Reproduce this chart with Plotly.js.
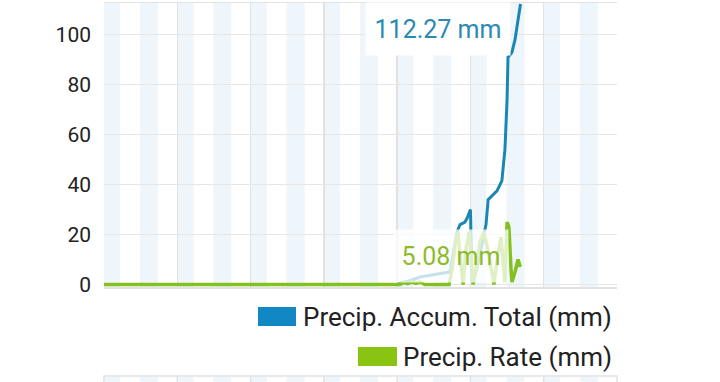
<!DOCTYPE html>
<html>
<head>
<meta charset="utf-8">
<script src="https://cdn.plot.ly/plotly-3.0.1.min.js"></script>
<style>
  html, body { margin: 0; padding: 0; background: #ffffff; }
  #chart { width: 720px; height: 382px; }
</style>
</head>
<body>
<div id="chart"></div>
<script>
// ---- data (hours since start of the 7-day window) ----
const seriesNames = ["Precip. Accum. Total (mm)", "Precip. Rate (mm)"];

const accumHours = [0, 96, 96.9, 100.2, 103.5, 108.4, 113.3, 114.3, 115.6, 116.6, 118.2, 118.9, 120.0,
                    120.5, 121.8, 123.1, 124.4, 125.1, 125.8, 127.1, 128.7, 130.3, 131.3, 132.0, 132.3,
                    133.6, 134.6, 135.6, 136.4];
const accumValues = [0, 0, 0.5, 1.5, 3, 4, 5, 12, 21, 24, 25, 26.5, 30,
                     1, 5, 12, 20, 24, 34, 35.5, 37.5, 41.5, 54, 74, 91,
                     93, 98, 106, 112.27];

const rateHours = [0, 96.9, 98.2, 99.5, 100.8, 102.1, 103.5, 105, 113, 114, 115, 115.9, 116.9, 117.6,
                   118.6, 119.6, 120.9, 121.8, 123.1, 124.4, 125.7, 127.1, 127.7, 129, 130, 130.9,
                   131.3, 132.0, 132.6, 133.3, 133.6, 134.6, 135.6, 136.3];
const rateValues = [0, 0, 0.8, 0.3, 1, 0.4, 1, 0, 0, 6, 16, 21, 8, 0,
                    15, 21, 0, 6, 17, 21, 14, 3, 0, 12, 19, 6,
                    1, 25, 23, 6, 1, 5, 10, 7];

const rateLabelValue = 5.08;
const yTicks = [0, 20, 40, 60, 80, 100];
const dayTicks = [0, 24, 48, 72, 96, 120, 144, 168];
const stripeStartsInDay = [0, 11.8];   // shaded bands within each day
const stripeLengths = [5.3, 5.9];

// ---- styling / layout helpers ----
const L = 104, R = 617, T = 3, B = 287;
const px = x => (x - L) / (R - L);
const py = y => (B - y) / (B - T);
const blue = '#1a87b3', green = '#84c11e';
const font = 'Roboto, "Noto Sans", sans-serif';

const shapes = [];
dayTicks.slice(0, -1).forEach(d => {
  stripeStartsInDay.forEach((s, i) => {
    shapes.push({type: 'rect', layer: 'below', xref: 'x', yref: 'paper',
      x0: d + s, x1: d + s + stripeLengths[i], y0: 0, y1: 1,
      fillcolor: '#eef5fb', line: {width: 0}});
    // next chart panel peeking at the bottom
    shapes.push({type: 'rect', layer: 'below', xref: 'x', yref: 'paper',
      x0: d + s, x1: d + s + stripeLengths[i], y0: py(400), y1: py(377),
      fillcolor: '#eef5fb', line: {width: 0}});
  });
});
shapes.push({type: 'rect', xref: 'paper', yref: 'paper', x0: 0, x1: 1, y0: py(400), y1: py(376),
  line: {color: '#e2e2e2', width: 1.5}, fillcolor: 'rgba(0,0,0,0)'});
dayTicks.slice(1, -1).forEach(d => {
  shapes.push({type: 'line', xref: 'x', yref: 'paper', x0: d, x1: d, y0: py(400), y1: py(376),
    line: {color: '#e2e2e2', width: 1.5}});
});
// legend swatches
shapes.push({type: 'rect', xref: 'paper', yref: 'paper', x0: px(258), x1: px(296), y0: py(326), y1: py(307),
  fillcolor: '#1188c4', line: {width: 0}});
shapes.push({type: 'rect', xref: 'paper', yref: 'paper', x0: px(358), x1: px(397), y0: py(366), y1: py(347),
  fillcolor: '#8ac412', line: {width: 0}});

const annotations = [
  {xref: 'paper', yref: 'paper', x: px(614), y: py(317), xanchor: 'right', yanchor: 'middle',
   text: seriesNames[0], showarrow: false, font: {family: font, size: 26, color: '#222'}},
  {xref: 'paper', yref: 'paper', x: px(614), y: py(357), xanchor: 'right', yanchor: 'middle',
   text: seriesNames[1], showarrow: false, font: {family: font, size: 26, color: '#222'}},
  {xref: 'paper', yref: 'paper', x: px(438), y: py(29), xanchor: 'center', yanchor: 'middle',
   text: accumValues[accumValues.length - 1].toFixed(2) + ' mm', showarrow: false,
   width: 142, height: 50, bgcolor: 'rgba(255,255,255,1)',
   font: {family: font, size: 25, color: '#2a8ab2'}},
  {xref: 'paper', yref: 'paper', x: px(451), y: py(256), xanchor: 'center', yanchor: 'middle',
   text: rateLabelValue.toFixed(2) + ' mm', showarrow: false,
   width: 112, height: 50, bgcolor: 'rgba(255,255,255,0.75)',
   font: {family: font, size: 25, color: '#8ebb2c'}}
];

const traces = [
  {x: accumHours, y: accumValues, name: seriesNames[0], type: 'scatter', mode: 'lines',
   line: {color: blue, width: 3}, hoverinfo: 'skip'},
  {x: rateHours, y: rateValues, name: seriesNames[1], type: 'scatter', mode: 'lines',
   line: {color: green, width: 3.5}, hoverinfo: 'skip'}
];

const layout = {
  width: 720, height: 382,
  margin: {l: L, r: 720 - R, t: T, b: 382 - B},
  paper_bgcolor: '#ffffff', plot_bgcolor: '#ffffff',
  showlegend: false,
  font: {family: font},
  xaxis: {range: [0, 168], tickvals: dayTicks, showticklabels: false, ticks: '',
          showgrid: true, gridcolor: '#e2e2e2', gridwidth: 1.5, zeroline: false,
          showline: true, mirror: true, linecolor: '#e2e2e2', linewidth: 1.5, fixedrange: true},
  yaxis: {range: [-1, 112.7], tickvals: yTicks, ticktext: yTicks.map(String), ticks: '',
          ticklabelstandoff: 12,
          tickfont: {family: font, size: 21, color: '#222'},
          showgrid: true, gridcolor: '#e6e6e6', gridwidth: 1.5, zeroline: false,
          showline: false, fixedrange: true},
  shapes: shapes,
  annotations: annotations
};

Plotly.newPlot('chart', traces, layout, {staticPlot: true, displayModeBar: false});
</script>
</body>
</html>
